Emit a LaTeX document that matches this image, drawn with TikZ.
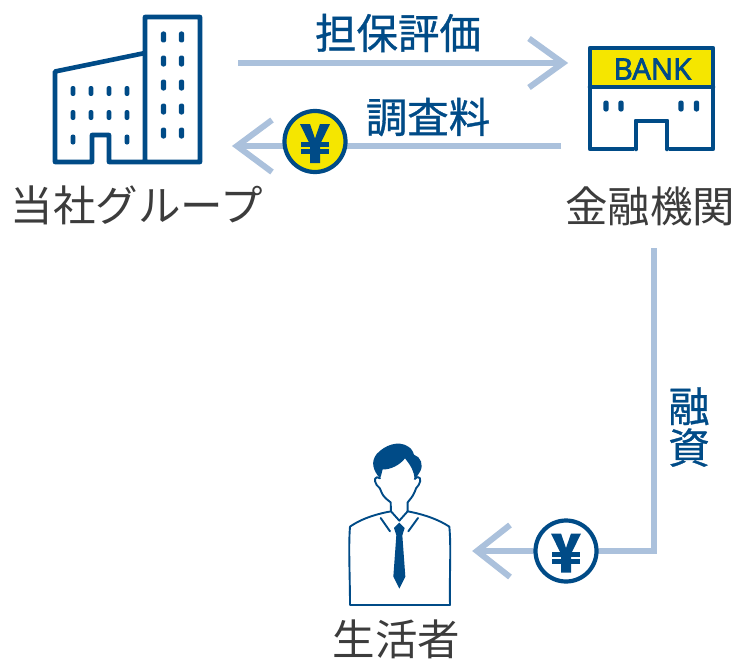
\documentclass[tikz,border=0pt]{standalone}
\usepackage{fontspec}
\newfontfamily\jp{Noto Sans CJK JP}
\newfontfamily\jpm[FakeBold=0.8]{Noto Sans CJK JP}
\newfontfamily\bankfont[FakeBold=2.6]{Open Sans}
\setmainfont{Noto Sans}
\definecolor{navy}{HTML}{004B87}
\definecolor{flow}{HTML}{ABC1DC}
\definecolor{ink}{HTML}{3C3C3C}
\definecolor{yen}{HTML}{F5E600}
\tikzset{
 icon/.style={draw=navy,line width=4.6pt,line join=round,line cap=round},
 win/.style={fill=navy,rounded corners=2.2pt},
 flowline/.style={draw=flow,line width=6pt},
 chev/.style={draw=flow,line width=6pt,line cap=butt,line join=miter},
 captext/.style={inner sep=0pt,text=ink,font=\jp\fontsize{42.5}{42.5}\selectfont},
 lab/.style={inner sep=0pt,text=navy,font=\jpm\fontsize{41.5}{41.5}\selectfont},
 coin/.style={circle,draw=navy,line width=4.2pt,minimum size=61pt,inner sep=0pt},
 thin/.style={draw=navy,line width=1.9pt,line join=round,line cap=round},
}
\newcommand{\yenmark}[2]{%
 \begin{scope}[shift={(#1,#2)}]
  \fill[navy] (-15,-17.5) -- (-5,-17.5) -- (0,-3) -- (5,-17.5) -- (15,-17.5) -- (5,3) -- (5,21.5) -- (-5,21.5) -- (-5,3) -- cycle;
  \fill[navy] (-14,0.5) rectangle (14,5.5);
  \fill[navy] (-14,7.5) rectangle (14,12.5);
 \end{scope}}
\begin{document}
\begin{tikzpicture}[x=1pt,y=-1pt]
\useasboundingbox (0,0) rectangle (735,661);
\fill[white] (0,0) rectangle (735,661);

% arrows
\coordinate (a1s) at (238,63); \coordinate (a1e) at (563,63);
\coordinate (a2s) at (561,146); \coordinate (a2e) at (237,146);
\coordinate (a3s) at (654,248); \coordinate (a3k) at (654,551); \coordinate (a3e) at (477,551);
\draw[flowline] (a1s) -- (a1e);
\draw[chev] (529,38.5) -- (a1e) -- (529,87.5);
\draw[flowline] (a2s) -- (a2e);
\draw[chev] (272,120) -- (a2e) -- (272,172);
\draw[flowline,line join=miter] (a3s) -- (a3k) -- (a3e);
\draw[chev] (510,525) -- (a3e) -- (510,577);

% coins
\node[coin,fill=yen] (coin1) at (315,141.5) {};
\yenmark{315}{141.5}
\node[coin,fill=white] (coin2) at (566,551) {};
\yenmark{566}{551}

% company building
\draw[icon] (145,53) -- (55,71.5) -- (55,162) -- (92,162) -- (92,135) -- (109,135) -- (109,162) -- (200,162) -- (200,17) -- (145,17) -- (145,162);
\foreach \x in {73,91,109,127} \foreach \y in {91,115}
  \fill[win] (\x-2.4,\y-5) rectangle (\x+2.4,\y+5);
\foreach \x in {73,127} \fill[win] (\x-2.4,134.5) rectangle (\x+2.4,144.5);
\foreach \x in {163.5,181.5} \foreach \y in {37,61,85,109,133}
  \fill[win] (\x-2.6,\y-5.5) rectangle (\x+2.6,\y+5.5);

% bank
\fill[yen] (590,48) rectangle (713,87);
\draw[icon] (636,149) -- (590,149) -- (590,48) -- (713,48) -- (713,149) -- (667,149) -- (667,121) -- (636,121) -- cycle;
\fill[white] (634,152) rectangle (669,125);
\draw[icon] (636,149) -- (636,121) -- (667,121) -- (667,149);
\draw[icon] (590,87) -- (713,87);
\foreach \x in {606,621,681,696.5}
  \fill[win] (\x-2.6,100.5) rectangle (\x+2.6,111.5);
\node[inner sep=0pt,text=navy,font=\bankfont\fontsize{29.5}{29.5}\selectfont] (bank) at (652.5,69) {BANK};

% person
\begin{scope}[shift={(330,430)},x=0.3333pt,y=-0.3333pt]
 \fill[navy] (150,145) .. controls (128,120) and (122,95) .. (140,72) .. controls (165,45) and (205,30) .. (235,50) .. controls (245,55) and (250,68) .. (252,74) .. controls (272,80) and (282,105) .. (270,125) .. controls (265,135) and (260,140) .. (254,147) .. controls (252,125) and (245,110) .. (225,85) .. controls (210,105) and (180,120) .. (158,118) .. controls (155,125) and (155,135) .. (150,145) -- cycle;
 \draw[thin]
   (150,145) .. controls (135,135) and (130,150) .. (140,165) .. controls (150,170) and (150,178) .. (155,188) .. controls (160,200) and (170,208) .. (182,217) -- (183,244) .. controls (150,250) and (100,262) .. (60,290) .. controls (55,350) and (60,440) .. (60,525) -- (360,525) .. controls (358,440) and (364,350) .. (358,290) .. controls (315,262) and (265,250) .. (233,244) -- (233,217) .. controls (240,208) and (248,200) .. (253,188) .. controls (258,178) and (258,170) .. (266,165) .. controls (276,150) and (270,132) .. (254,147);
 \draw[thin] (183,244) -- (208,272) -- (233,244);
 \draw[thin] (152,264) -- (180,304);
 \draw[thin] (264,264) -- (235,304);
 \fill[navy,line join=round] (208,278) -- (224,294) -- (217,316) -- (226,440) -- (208,476) -- (190,440) -- (199,316) -- (192,294) -- cycle;
\end{scope}

% labels
\node[captext] (kaisha) at (137,205) {当社グループ};
\node[captext] (kinyu) at (650,206) {金融機関};
\node[captext] (seikatsu) at (396.5,639.5) {生活者};
\node[lab] (l1) at (398,33) {担保評価};
\node[lab] (l2) at (428,117) {調査料};
\node[lab,align=center] (l3) at (689,427) {融\\資};
\end{tikzpicture}
\end{document}
